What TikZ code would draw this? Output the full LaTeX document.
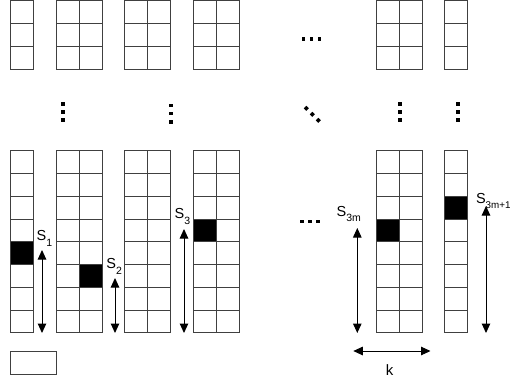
\documentclass[tikz,border=0pt]{standalone}
\usepackage{fontspec}
\setmainfont{Liberation Sans}
\usetikzlibrary{arrows.meta}
\tikzset{
  gridline/.style={draw=black!75, line width=1bp},
  blk/.style={fill=black},
  dimarrow/.style={line width=1bp, {Triangle[length=9.5bp,width=8.5bp]}-{Triangle[length=9.5bp,width=8.5bp]}},
  dotm/.style={fill=black, minimum size=3.6bp, inner sep=0pt, draw=none, shape=rectangle},
  lbl/.style={anchor=base west, inner sep=0pt, font=\fontsize{14.5bp}{15bp}\selectfont},
}
\newcommand{\sublab}[2][10.5bp]{\raisebox{-5.5bp}{\fontsize{#1}{11bp}\selectfont #2}}
\begin{document}
\begin{tikzpicture}[x=1bp,y=-1bp]
\useasboundingbox (0,0) rectangle (511,383);
% black cells
\fill[blk] (10.5,241.75) rectangle (33.5,264.5);
\fill[blk] (79,264.5) rectangle (102,287.25);
\fill[blk] (193,219) rectangle (216,241.75);
\fill[blk] (376,219) rectangle (399,241.75);
\fill[blk] (444.5,196.25) rectangle (467.5,219);
% top grids
\foreach \xa/\n in {10.5/1, 56/2, 124.5/2, 193/2, 376/2, 444.5/1}{
  \pgfmathsetmacro\xb{\xa+23*\n}
  \draw[gridline] (\xa,0.5) rectangle (\xb,69);
  \foreach \yy in {23,46} \draw[gridline] (\xa,\yy) -- (\xb,\yy);
  \ifnum\n=2 \draw[gridline] (\xa+23,0.5) -- (\xa+23,69); \fi
}
% bottom grids
\foreach \xa/\n in {10.5/1, 56/2, 124.5/2, 193/2, 376/2, 444.5/1}{
  \pgfmathsetmacro\xb{\xa+23*\n}
  \draw[gridline] (\xa,150.75) rectangle (\xb,332.75);
  \foreach \k in {1,...,7} \draw[gridline] (\xa,150.75+22.75*\k) -- (\xb,150.75+22.75*\k);
  \ifnum\n=2 \draw[gridline] (\xa+23,150.75) -- (\xa+23,332.75); \fi
}
% small legend box
\draw[gridline] (10.5,351.7) rectangle (56.5,374);
% dots
\foreach \x/\y in {303.3/39, 311.3/39, 319.5/39,
                   302/221.3, 309.7/221.3, 317.7/221.3,
                   63/103.7, 63/111.7, 63/120,
                   171/105.3, 171/113.3, 171/122,
                   399.7/103.7, 399.7/111.7, 399.7/120,
                   458/103.7, 458/111.7, 458/120}
  \node[dotm] at (\x,\y) {};
\foreach \x/\y in {306.3/108.3, 312.3/114.3, 318.3/120.3}
  \node[dotm, rotate=45] at (\x,\y) {};
% arrows
\coordinate (a1t) at (42,250);   \coordinate (a1b) at (42,333);
\coordinate (a2t) at (115,278);  \coordinate (a2b) at (115,333);
\coordinate (a3t) at (184,229);  \coordinate (a3b) at (184,333);
\coordinate (a4t) at (357.3,228);\coordinate (a4b) at (357.3,333);
\coordinate (a5t) at (486,206);  \coordinate (a5b) at (486,333);
\coordinate (kl) at (353.3,351); \coordinate (kr) at (430.5,351);
\draw[dimarrow] (a1t) -- (a1b);
\draw[dimarrow] (a2t) -- (a2b);
\draw[dimarrow] (a3t) -- (a3b);
\draw[dimarrow] (a4t) -- (a4b);
\draw[dimarrow] (a5t) -- (a5b);
\draw[dimarrow] (kl) -- (kr);
% labels
\node[lbl] (s1) at (36.5,240.5) {S\sublab{1}};
\node[lbl] (s2) at (106.2,268.5) {S\sublab{2}};
\node[lbl] (s3) at (174.5,218.5) {S\sublab{3}};
\node[lbl] (s3m) at (336.5,216) {S\sublab{3m}};
\node[lbl] (s3m1) at (475.8,203) {S\sublab[9.8bp]{3m+1}};
\node[anchor=base, inner sep=0pt, font=\fontsize{15bp}{15bp}\selectfont] (klab) at (389.5,375) {k};
\end{tikzpicture}
\end{document}
